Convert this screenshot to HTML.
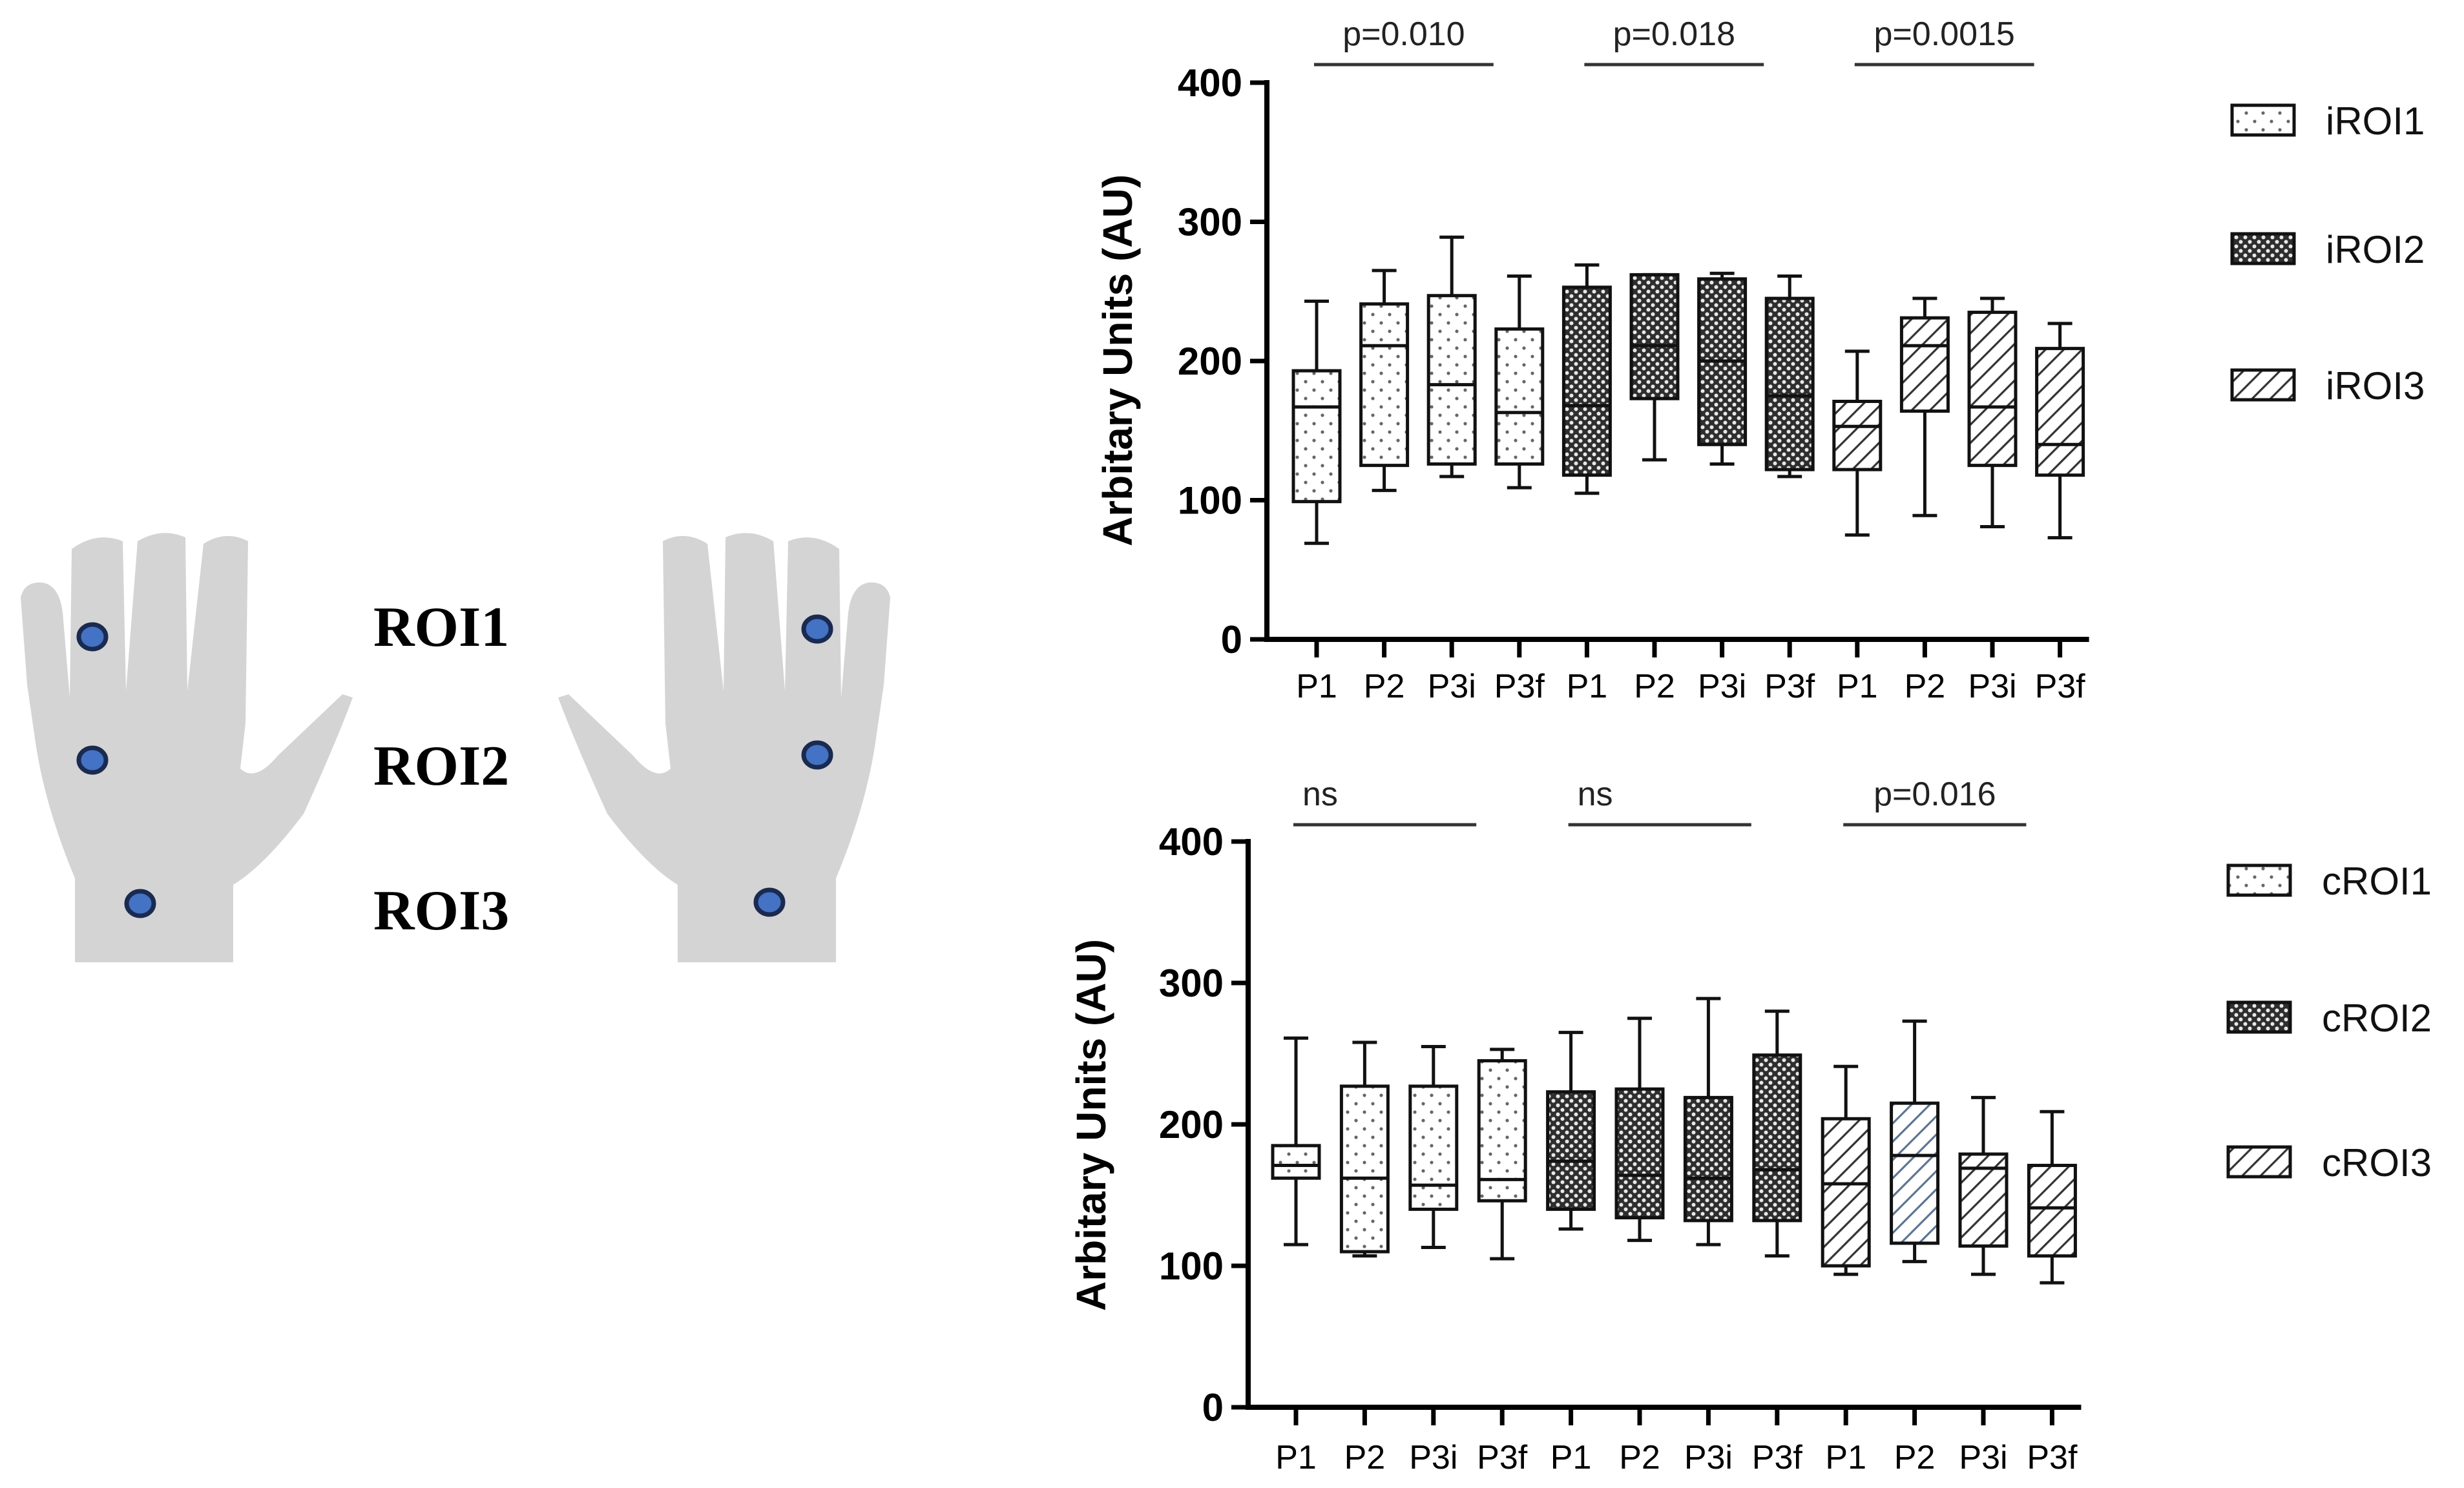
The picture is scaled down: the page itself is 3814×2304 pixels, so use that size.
<!DOCTYPE html>
<html><head><meta charset="utf-8"><style>
html,body{margin:0;padding:0;background:#fff;}
svg{display:block;}
text{font-family:"Liberation Sans",sans-serif;}
</style></head><body>
<svg id="fig" width="3814" height="2304" viewBox="0 0 3814 2304" xmlns="http://www.w3.org/2000/svg">
<defs>
<pattern id="patDots" patternUnits="userSpaceOnUse" width="26" height="26">
<rect width="26" height="26" fill="#fff"/>
<circle cx="6" cy="6" r="2.6" fill="#666"/><circle cx="19" cy="19" r="2.6" fill="#666"/>
</pattern>
<pattern id="patCheck" patternUnits="userSpaceOnUse" width="14" height="14">
<rect width="14" height="14" fill="#2e2e2e"/>
<circle cx="3.5" cy="3.5" r="3" fill="#e8e8e8"/><circle cx="10.5" cy="10.5" r="3" fill="#e8e8e8"/>
</pattern>
<pattern id="patHatch" patternUnits="userSpaceOnUse" width="20" height="20" patternTransform="rotate(45)">
<rect width="20" height="20" fill="#fff"/>
<rect x="0" y="0" width="3.2" height="20" fill="#333"/>
</pattern>
<pattern id="patHatchBlue" patternUnits="userSpaceOnUse" width="20" height="20" patternTransform="rotate(45)">
<rect width="20" height="20" fill="#fff"/>
<rect x="0" y="0" width="3.2" height="20" fill="#5c7593"/>
</pattern>
</defs>

<g>
<path fill="#d4d4d4" d="M116 1490 L116 1360 Q70 1250 55 1150 L42 1060 L32 925 Q38 900 65 902 Q95 906 98 960 L108 1080 L111 850 Q150 822 190 838 L195 1070 L213 838 Q250 816 287 832 L290 1070 L315 842 Q350 820 384 838 L380 1120 L372 1190 Q395 1212 430 1170 L530 1075 L546 1080 Q520 1150 470 1260 Q410 1340 361 1370 L361 1490 Z"/>
<path fill="#d4d4d4" transform="translate(1410,0) scale(-1,1)" d="M116 1490 L116 1360 Q70 1250 55 1150 L42 1060 L32 925 Q38 900 65 902 Q95 906 98 960 L108 1080 L111 850 Q150 822 190 838 L195 1070 L213 838 Q250 816 287 832 L290 1070 L315 842 Q350 820 384 838 L380 1120 L372 1190 Q395 1212 430 1170 L530 1075 L546 1080 Q520 1150 470 1260 Q410 1340 361 1370 L361 1490 Z"/>
<g fill="#4472c4" stroke="#1a2a50" stroke-width="7">
<ellipse cx="143" cy="986" rx="21" ry="19"/>
<ellipse cx="143" cy="1177" rx="21" ry="19"/>
<ellipse cx="217" cy="1399" rx="21" ry="19"/>
<ellipse cx="1265" cy="974" rx="21" ry="19"/>
<ellipse cx="1265" cy="1169" rx="21" ry="19"/>
<ellipse cx="1191" cy="1397" rx="21" ry="19"/>
</g>
<g font-weight="bold" font-size="88" fill="#000">
<text x="578" y="1000" style="font-family:'Liberation Serif',serif">ROI1</text>
<text x="578" y="1215" style="font-family:'Liberation Serif',serif">ROI2</text>
<text x="578" y="1439" style="font-family:'Liberation Serif',serif">ROI3</text>
</g>
</g>
<g id="charts"></g>
</svg>
<script>
const categories = ["P1","P2","P3i","P3f","P1","P2","P3i","P3f","P1","P2","P3i","P3f"];
const yTicks = [0,100,200,300,400];
// top panel (ipsilateral)
const topMin = [69,107,117,109,105,129,126,117,75,89,81,73];
const topQ1  = [99,125,126,126,118,173,140,122,122,164,125,118];
const topMed = [167,211,183,163,168,211,200,175,153,211,167,140];
const topQ3  = [193,241,247,223,253,262,259,245,171,231,235,209];
const topMax = [243,265,289,261,269,262,263,261,207,245,245,227];
const topSig = ["p=0.010","p=0.018","p=0.0015"];
const topLegend = ["iROI1","iROI2","iROI3"];
// bottom panel (contralateral)
const botMin = [115,107,113,105,126,118,115,107,94,103,94,88];
const botQ1  = [162,110,140,146,140,134,132,132,100,116,114,107];
const botMed = [171,162,157,161,174,164,162,168,158,178,169,141];
const botQ3  = [185,227,227,245,223,225,219,249,204,215,179,171];
const botMax = [261,258,255,253,265,275,289,280,241,273,219,209];
const botSig = ["ns","ns","p=0.016"];
const botLegend = ["cROI1","cROI2","cROI3"];

const NS = "http://www.w3.org/2000/svg";
const root = document.getElementById('charts');
function mk(tag, attrs, parent){
  const e = document.createElementNS(NS, tag);
  for (const k in attrs) e.setAttribute(k, attrs[k]);
  parent.appendChild(e);
  return e;
}
function panel(cfg, mins, q1s, meds, q3s, maxs, sigs, legends){
  const g = mk('g', {}, root);
  
  
  const y = v => cfg.y0 - (v/400)*(cfg.y0 - cfg.y400);
  const x = i => cfg.xFirst + i*cfg.step;
  const ax = mk('line', {x1:cfg.axX, y1:y(400)-4, x2:cfg.axX, y2:cfg.y0+4, stroke:'#000','stroke-width':8}, g);
  
  
  yTicks.forEach(t => {
    mk('line', {x1:cfg.axX-26, y1:y(t), x2:cfg.axX, y2:y(t), stroke:'#000','stroke-width':7}, g);
    const tl = mk('text', {x:cfg.axX-38, y:y(t)+21, 'text-anchor':'end', 'font-size':60, 'font-weight':'bold'}, g);
    tl.textContent = t;
    
    
  });
  const xa = mk('line', {x1:cfg.axX-4, y1:cfg.y0, x2:x(categories.length-1)+45, y2:cfg.y0, stroke:'#000','stroke-width':8}, g);
  
  
  const yt = mk('text', {x:0, y:0, 'text-anchor':'middle','font-size':64,'font-weight':'bold', transform:`translate(${cfg.titleX},${cfg.titleY}) rotate(-90)`}, g);
  yt.textContent = 'Arbitary Units (AU)';
  
  
  const fills = ['url(#patDots)','url(#patCheck)','url(#patHatch)'];
  const bw = 72, cw = 38;
  categories.forEach((c, i) => {
    const cx = x(i);
    mk('line', {x1:cx, y1:cfg.y0, x2:cx, y2:cfg.y0+28, stroke:'#000','stroke-width':7}, g);
    const lab = mk('text', {x:cx, y:cfg.labY, 'text-anchor':'middle','font-size':52}, g);
    lab.textContent = c;
    
    
    const bg = mk('g', {stroke:'#111','stroke-width':5}, g);
    
    
    mk('line', {x1:cx, y1:y(maxs[i]), x2:cx, y2:y(q3s[i])}, bg);
    mk('line', {x1:cx, y1:y(q1s[i]), x2:cx, y2:y(mins[i])}, bg);
    mk('line', {x1:cx-cw/2, y1:y(maxs[i]), x2:cx+cw/2, y2:y(maxs[i])}, bg);
    mk('line', {x1:cx-cw/2, y1:y(mins[i]), x2:cx+cw/2, y2:y(mins[i])}, bg);
    let f = fills[Math.floor(i/4)];
    if (cfg.blueIdx === i) f = 'url(#patHatchBlue)';
    mk('rect', {x:cx-bw/2, y:y(q3s[i]), width:bw, height:y(q1s[i])-y(q3s[i]), fill:f}, bg);
    mk('line', {x1:cx-bw/2, y1:y(meds[i]), x2:cx+bw/2, y2:y(meds[i])}, bg);
  });
  sigs.forEach((s, k) => {
    const x1 = x(k*4) - 4, x2 = x(k*4+3) - 40;
    const ln = mk('line', {x1:x1, y1:cfg.sigLineY, x2:x2, y2:cfg.sigLineY, stroke:'#333','stroke-width':5}, g);
    
    
    const isNs = s === 'ns';
    const st = mk('text', {x: isNs ? x1+14 : (x1+x2)/2, y:cfg.sigLineY-30, 'text-anchor': isNs ? 'start':'middle', 'font-size':52, fill:'#222'}, g);
    st.textContent = s;
    
    
  });
  legends.forEach((l, k) => {
    const ly = cfg.legY[k];
    const lg = mk('g', {}, g);
    
    
    mk('rect', {x:cfg.legX, y:ly-23, width:96, height:46, fill:fills[k], stroke:'#111','stroke-width':5}, lg);
    const lt = mk('text', {x:cfg.legX+145, y:ly+22, 'font-size':60, fill:'#111'}, lg);
    lt.textContent = l;
  });
}
panel({name:'top-chart', axX:1961, y0:990, y400:128, xFirst:2038, step:104.6, labY:1080, titleX:1752, titleY:558, sigLineY:100, legX:3455, legY:[186,385,596]},
  topMin, topQ1, topMed, topQ3, topMax, topSig, topLegend);
panel({name:'bottom-chart', axX:1932, y0:2179, y400:1303, xFirst:2006, step:106.4, labY:2274, titleX:1711, titleY:1742, sigLineY:1277, legX:3449, legY:[1363,1575,1799], blueIdx:9},
  botMin, botQ1, botMed, botQ3, botMax, botSig, botLegend);
</script>
</body></html>
